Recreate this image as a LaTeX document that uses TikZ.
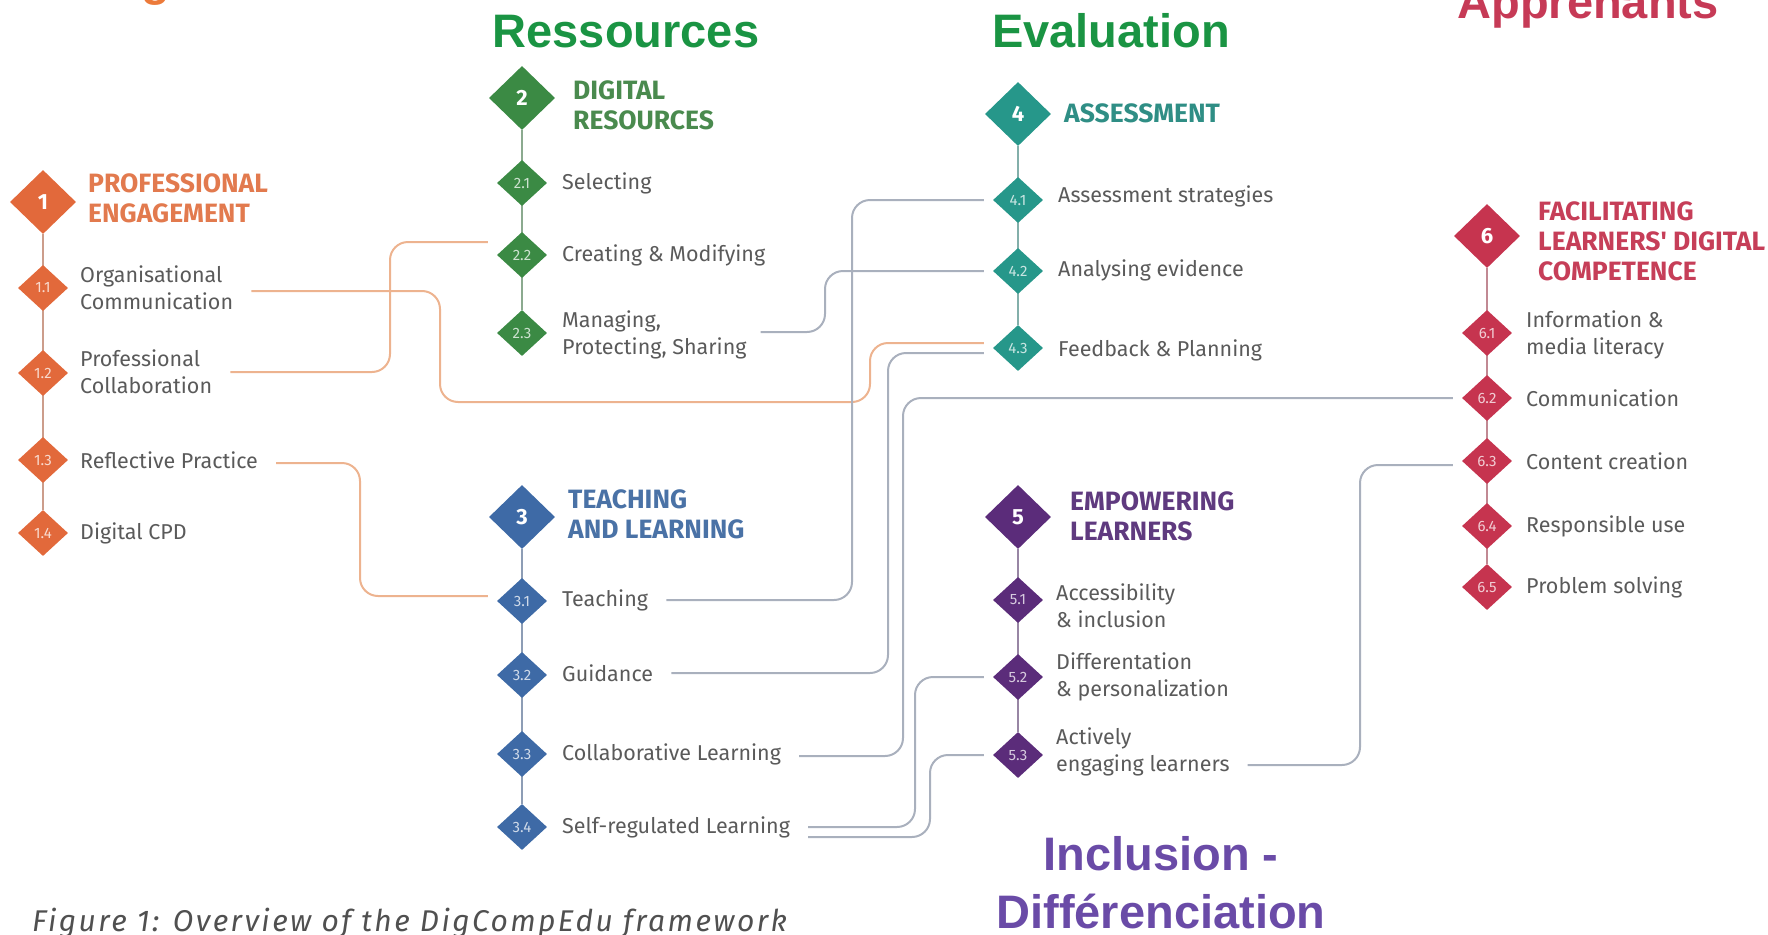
\documentclass[tikz,border=0pt]{standalone}
\usepackage{fontspec}
\setmainfont{Fira Sans}
\newfontfamily\bigfont{Liberation Sans}
\usetikzlibrary{shapes.geometric,backgrounds}
\definecolor{corange}{HTML}{E2693B}
\definecolor{torange}{HTML}{E27A4E}
\definecolor{cgreen}{HTML}{3B8A44}
\definecolor{tgreen}{HTML}{4A8A4E}
\definecolor{cblue}{HTML}{3E6AA6}
\definecolor{tblue}{HTML}{4A72A6}
\definecolor{cteal}{HTML}{26978A}
\definecolor{tteal}{HTML}{2F8E85}
\definecolor{cpurple}{HTML}{5B2C7A}
\definecolor{tpurple}{HTML}{5F3A7F}
\definecolor{cred}{HTML}{C6344F}
\definecolor{tred}{HTML}{C63E58}
\definecolor{bgreen}{HTML}{1A9443}
\definecolor{bpurple}{HTML}{6A4BA7}
\definecolor{bred}{HTML}{C63A56}
\definecolor{borange}{HTML}{EC7A3A}
\definecolor{txtgray}{HTML}{5A5A5A}
\definecolor{capgray}{HTML}{505050}
\definecolor{oline}{HTML}{EDB38F}
\definecolor{gline}{HTML}{A9B0BD}
\begin{document}
\begin{tikzpicture}[x=1pt,y=-1pt,
  maind/.style={diamond, fill=#1, minimum width=66pt, minimum height=64pt, inner sep=0pt, text=white, font=\bfseries\fontsize{22}{22}\selectfont},
  subd/.style={diamond, fill=#1, minimum width=50pt, minimum height=46pt, inner sep=0pt, text=white!75!#1, font=\fontsize{15}{15}\selectfont},
  item/.style={anchor=west, inner sep=0pt, align=left, text=txtgray, font=\fontsize{21.5}{27}\selectfont},
  ttl/.style={anchor=west, inner sep=0pt, align=left, text=#1, font=\bfseries\fontsize{26.5}{30}\selectfont},
  biglbl/.style={inner sep=0pt, anchor=base, text=#1, font=\bigfont\bfseries\fontsize{47}{57}\selectfont},
  oconn/.style={draw=oline, line width=2pt, rounded corners=18pt},
  gconn/.style={draw=gline, line width=2pt, rounded corners=18pt},
  spine/.style={draw=#1!55!gray!70!white, line width=2.5pt}]
\useasboundingbox (0,0) rectangle (1768,934);
\clip (0,0) rectangle (1768,934);

% big labels
\node[biglbl=borange] (lblg) at (156,-4.5) {g};
\node[biglbl=bgreen] (lblres) at (626,48) {Ressources};
\node[biglbl=bgreen] (lbleval) at (1111,48) {Evaluation};
\node[biglbl=bred] (lblapp) at (1588,19) {Apprenants};
\node[biglbl=bpurple] (lblinc) at (1161,870) {Inclusion -};
\node[biglbl=bpurple] (lbldif) at (1161,928) {Différenciation};

% column 1
\node[maind=corange] (d1) at (43,202) {1};
\node[ttl=torange] (h1) at (88,198) {PROFESSIONAL\\ENGAGEMENT};
\node[subd=corange] (d11) at (43,288) {1.1};
\node[item] (t11) at (80,288) {Organisational\\Communication};
\node[subd=corange] (d12) at (43,373) {1.2};
\node[item] (t12) at (80,372) {Professional\\Collaboration};
\node[subd=corange] (d13) at (43,460) {1.3};
\node[item] (t13) at (80,460) {Reflective Practice};
\node[subd=corange] (d14) at (43,533) {1.4};
\node[item] (t14) at (80,533) {Digital CPD};

% column 2
\node[maind=cgreen] (d2) at (522,98) {2};
\node[ttl=tgreen] (h2) at (573,105) {DIGITAL\\RESOURCES};
\node[subd=cgreen] (d21) at (522,183) {2.1};
\node[item] (t21) at (562,183) {Selecting};
\node[subd=cgreen] (d22) at (522,255) {2.2};
\node[item] (t22) at (562,255) {Creating \& Modifying};
\node[subd=cgreen] (d23) at (522,333) {2.3};
\node[item] (t23) at (562,335) {Managing,\\Protecting, Sharing};

% column 3
\node[maind=cblue] (d3) at (522,517) {3};
\node[ttl=tblue] (h3) at (568,514) {TEACHING\\AND LEARNING};
\node[subd=cblue] (d31) at (522,601) {3.1};
\node[item] (t31) at (562,600) {Teaching};
\node[subd=cblue] (d32) at (522,675) {3.2};
\node[item] (t32) at (562,673) {Guidance};
\node[subd=cblue] (d33) at (522,754) {3.3};
\node[item] (t33) at (562,754) {Collaborative Learning};
\node[subd=cblue] (d34) at (522,827) {3.4};
\node[item] (t34) at (562,827) {Self-regulated Learning};

% column 4
\node[maind=cteal] (d4) at (1018,114) {4};
\node[ttl=tteal] (h4) at (1064,113) {ASSESSMENT};
\node[subd=cteal] (d41) at (1018,200) {4.1};
\node[item] (t41) at (1058,196) {Assessment strategies};
\node[subd=cteal] (d42) at (1018,271) {4.2};
\node[item] (t42) at (1058,270) {Analysing evidence};
\node[subd=cteal] (d43) at (1018,348) {4.3};
\node[item] (t43) at (1058,350) {Feedback \& Planning};

% column 5
\node[maind=cpurple] (d5) at (1018,517) {5};
\node[ttl=tpurple] (h5) at (1070,516) {EMPOWERING\\LEARNERS};
\node[subd=cpurple] (d51) at (1018,600) {5.1};
\node[item] (t51) at (1056,606) {Accessibility\\\& inclusion};
\node[subd=cpurple] (d52) at (1018,677) {5.2};
\node[item] (t52) at (1056,677) {Differentation\\\& personalization};
\node[subd=cpurple] (d53) at (1018,755) {5.3};
\node[item] (t53) at (1056,752) {Actively\\engaging learners};

% column 6
\node[maind=cred] (d6) at (1487,236) {6};
\node[ttl=tred] (h6) at (1538,241) {FACILITATING\\LEARNERS\textquotesingle{} DIGITAL\\COMPETENCE};
\node[subd=cred] (d61) at (1487,333) {6.1};
\node[item] (t61) at (1526,335) {Information \&\\media literacy};
\node[subd=cred] (d62) at (1487,398) {6.2};
\node[item] (t62) at (1526,398) {Communication};
\node[subd=cred] (d63) at (1487,461) {6.3};
\node[item] (t63) at (1526,461) {Content creation};
\node[subd=cred] (d64) at (1487,526) {6.4};
\node[item] (t64) at (1526,526) {Responsible use};
\node[subd=cred] (d65) at (1487,587) {6.5};
\node[item] (t65) at (1526,587) {Problem solving};

% caption
\node[anchor=base west, inner sep=0pt, text=capgray, font=\itshape\fontsize{30}{30}\selectfont\addfontfeature{LetterSpace=8}] (cap) at (32,931) {Figure 1: Overview of the DigCompEdu framework};

\begin{scope}[on background layer]
% spines
\draw[spine=corange] (d1) -- (d14);
\draw[spine=cgreen] (d2) -- (d23);
\draw[spine=cblue] (d3) -- (d34);
\draw[spine=cteal] (d4) -- (d43);
\draw[spine=cpurple] (d5) -- (d53);
\draw[spine=cred] (d6) -- (d65);

% channel coordinates
\coordinate (k1a) at (440,402);
\coordinate (k1b) at (870,402);
\coordinate (k2) at (390,0);
\coordinate (k3) at (360,0);
\coordinate (k4) at (852,0);
\coordinate (k5) at (825,0);
\coordinate (k6) at (888,0);
\coordinate (k7) at (903,0);
\coordinate (k8) at (915,0);
\coordinate (k9) at (930,0);
\coordinate (k10) at (1360,0);

% end points
\coordinate (s1) at ([xshift=18pt,yshift=-3pt]t11.east);
\coordinate (e1) at ([xshift=-9pt,yshift=5pt]d43.west);
\coordinate (s2) at ([xshift=18pt]t12.east);
\coordinate (e2) at ([xshift=-9pt,yshift=13pt]d22.west);
\coordinate (s3) at ([xshift=18pt,yshift=-3pt]t13.east);
\coordinate (e3) at ([xshift=-9pt,yshift=5pt]d31.west);
\coordinate (s4) at ([xshift=18pt]t31.east);
\coordinate (e4) at ([xshift=-9pt]d41.west);
\coordinate (s5) at ([xshift=14pt,yshift=3pt]t23.east);
\coordinate (e5) at ([xshift=-9pt]d42.west);
\coordinate (s6) at ([xshift=18pt]t32.east);
\coordinate (e6) at ([xshift=-9pt,yshift=-5pt]d43.west);
\coordinate (s7) at ([xshift=18pt,yshift=-2pt]t33.east);
\coordinate (e7) at ([xshift=-9pt]d62.west);
\coordinate (s8) at ([xshift=18pt]t34.east);
\coordinate (e8) at ([xshift=-9pt]d52.west);
\coordinate (s9) at ([xshift=18pt,yshift=-10pt]t34.east);
\coordinate (e9) at ([xshift=-9pt]d53.west);
\coordinate (s10) at ([xshift=18pt,yshift=-13pt]t53.east);
\coordinate (e10) at ([xshift=-9pt,yshift=-4pt]d63.west);

% connectors
\draw[oconn] (s1) -- (s1 -| k1a) -- (k1a) -- (k1b) -- (k1b |- e1) -- (e1);
\draw[oconn] (s2) -- (s2 -| k2) -- (k2 |- e2) -- (e2);
\draw[oconn] (s3) -- (s3 -| k3) -- (k3 |- e3) -- (e3);
\draw[gconn] (s4) -- (s4 -| k4) -- (k4 |- e4) -- (e4);
\draw[gconn] (s5) -- (s5 -| k5) -- (k5 |- e5) -- (e5);
\draw[gconn] (s6) -- (s6 -| k6) -- (k6 |- e6) -- (e6);
\draw[gconn] (s7) -- (s7 -| k7) -- (k7 |- e7) -- (e7);
\draw[gconn] (s8) -- (s8 -| k8) -- (k8 |- e8) -- (e8);
\draw[gconn] (s9) -- (s9 -| k9) -- (k9 |- e9) -- (e9);
\draw[gconn] (s10) -- (s10 -| k10) -- (k10 |- e10) -- (e10);
\end{scope}
\end{tikzpicture}
\end{document}
